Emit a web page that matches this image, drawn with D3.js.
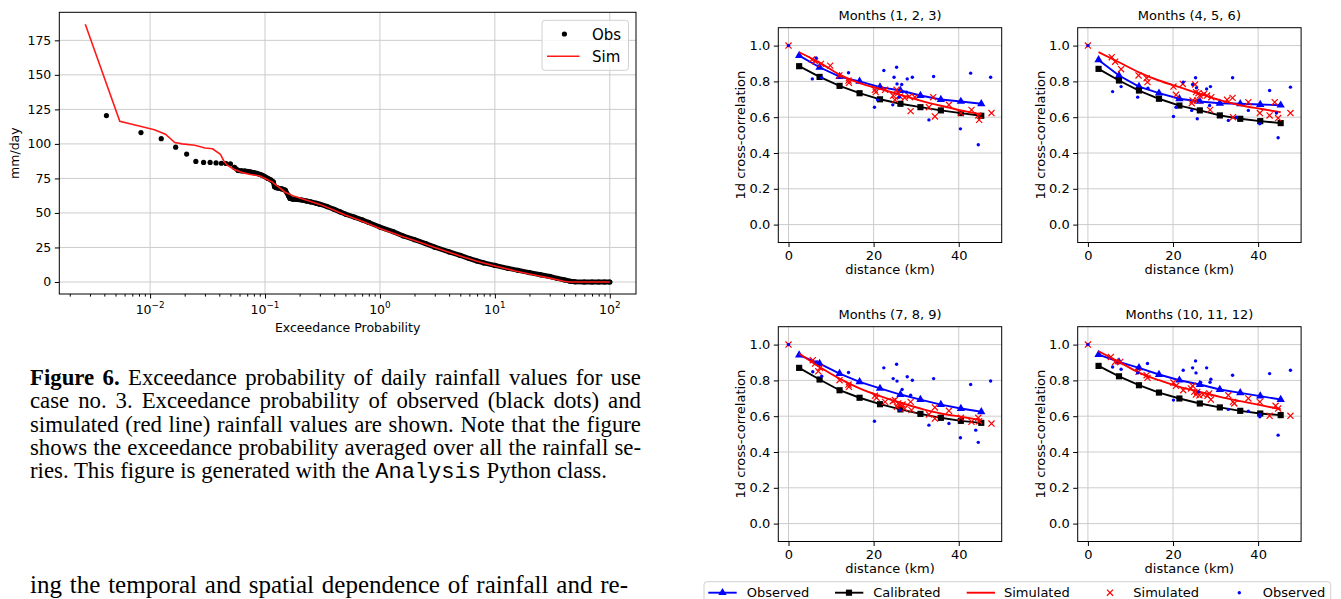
<!DOCTYPE html>
<html>
<head>
<meta charset="utf-8">
<script src="https://cdn.jsdelivr.net/npm/d3@7"></script>
<style>
  body { margin: 0; background: #fff; width: 1341px; height: 599px; overflow: hidden; position: relative; }
  svg { position: absolute; left: 0; top: 0; }
  svg text { font-family: "DejaVu Sans", sans-serif; fill: #000; }
  .cap { position: absolute; left: 30px; font-family: "Liberation Serif", "Times New Roman", serif;
         font-size: 22.8px; line-height: 23.3px; color: #000; }
  .cap div { white-space: nowrap; }
  .cap code { font-family: "Liberation Mono", "Courier New", monospace; font-size: 22px; }
  .body { font-size: 25px; }
</style>
</head>
<body>
<div class="cap" style="top:366px" data-w="611">
  <div class="j"><span><b>Figure 6.</b> Exceedance probability of daily rainfall values for use</span></div>
  <div class="j"><span>case no. 3. Exceedance probability of observed (black dots) and</span></div>
  <div class="j"><span>simulated (red line) rainfall values are shown. Note that the figure</span></div>
  <div class="j"><span>shows the exceedance probability averaged over all the rainfall se-</span></div>
  <div><span>ries. This figure is generated with the <code>Analysis</code> Python class.</span></div>
</div>
<div class="cap body" style="top:573px" data-w="598">
  <div class="j"><span>ing the temporal and spatial dependence of rainfall and re-</span></div>
</div>
<svg id="vis"></svg>
<script>
// ---- left chart: exceedance probability (percent) vs mm/day
var obsProb = [0.00417, 0.00833, 0.0125, 0.0167, 0.0208, 0.025, 0.0292, 0.0333, 0.0375, 0.0417, 0.0458, 0.05,
  0.0542, 0.0583, 0.0625, 0.0667, 0.0708, 0.075, 0.08, 0.085, 0.09, 0.095,
  0.1, 0.106, 0.112, 0.118, 0.121, 0.125, 0.13, 0.14, 0.15, 0.16,
  0.165, 0.175, 0.19, 0.21, 0.23, 0.25, 0.28, 0.3, 0.35, 0.4,
  0.45, 0.5, 0.6, 0.7, 0.8, 1, 1.3, 1.6, 2, 2.5,
  3, 4, 5, 6, 7, 8, 10, 13, 16, 20,
  25, 30, 35, 40, 45, 50, 60, 70, 80, 90, 100];
var obsMm = [120.5, 108.2, 103.8, 97.6, 92.6, 87.3, 86.6, 86.6, 86.2, 86.0, 85.8, 85.5,
  83.0, 80.8, 80.5, 80.3, 80.0, 79.6, 79.2, 78.6, 78.0, 77.2,
  76.2, 75.0, 74.0, 72.5, 69.0, 68.3, 68.0, 67.4, 66.5, 62.5,
  60.5, 60.0, 59.8, 59.3, 58.6, 58.0, 57.0, 56.3, 54.5, 52.6,
  50.8, 49.2, 47.0, 45.0, 43.1, 39.8, 36.5, 33.3, 30.6, 27.8,
  25.2, 21.8, 19.2, 17.0, 15.2, 13.8, 12.0, 9.9, 8.4, 6.8,
  5.2, 4.0, 2.6, 1.6, 0.6, 0.1, 0, 0, 0, 0, 0];
var simProb = [0.00273, 0.00545, 0.0082, 0.0109, 0.0136, 0.0164, 0.019, 0.0245, 0.03, 0.035,
  0.0409, 0.0436, 0.0463, 0.054, 0.065, 0.075, 0.09, 0.1, 0.115, 0.13,
  0.15, 0.18, 0.22, 0.3, 0.4, 0.5, 0.7, 1, 1.5, 2,
  3, 5, 7, 10, 15, 20, 30, 40, 45, 100];
var simMm = [186.7, 116.4, 112.8, 110.2, 107.0, 101.0, 100.0, 99.0, 97.0, 96.5,
  92.5, 88.0, 85.0, 81.5, 79.0, 77.8, 76.8, 75.0, 72.5, 69.0,
  65.0, 62.0, 59.8, 56.2, 52.0, 48.5, 44.0, 38.8, 33.5, 30.0,
  25.0, 18.8, 15.0, 11.6, 8.0, 5.8, 2.8, 0.5, 0.0, 0.0];
var probTicks = [0.01, 0.1, 1, 10, 100],
    probExp = ["\u22122", "\u22121", "0", "1", "2"],
    mmTicks = [0, 25, 50, 75, 100, 125, 150, 175];

// ---- right: 1d cross-correlation vs distance, one entry per season
var panelTitles = ["Months (1, 2, 3)", "Months (4, 5, 6)", "Months (7, 8, 9)", "Months (10, 11, 12)"];
var binDist = [2.5, 7.3, 12.0, 16.7, 21.5, 26.3, 31.0, 35.8, 40.5, 45.3];
var obsFit = [
  [0.944, 0.879, 0.827, 0.800, 0.768, 0.749, 0.721, 0.699, 0.688, 0.675],
  [0.920, 0.833, 0.771, 0.734, 0.703, 0.688, 0.678, 0.675, 0.671, 0.667],
  [0.941, 0.894, 0.838, 0.792, 0.755, 0.721, 0.693, 0.665, 0.643, 0.625],
  [0.944, 0.903, 0.870, 0.833, 0.801, 0.777, 0.749, 0.730, 0.712, 0.693]];
var calFit = [
  [0.885, 0.825, 0.775, 0.734, 0.700, 0.675, 0.656, 0.638, 0.623, 0.608],
  [0.870, 0.805, 0.749, 0.703, 0.665, 0.638, 0.610, 0.591, 0.578, 0.567],
  [0.870, 0.805, 0.745, 0.703, 0.667, 0.638, 0.613, 0.591, 0.574, 0.563],
  [0.881, 0.823, 0.773, 0.732, 0.699, 0.671, 0.649, 0.630, 0.615, 0.606]];
var simFit = [
  [0.963, 0.905, 0.838, 0.790, 0.758, 0.725, 0.693, 0.664, 0.638, 0.615],
  [0.963, 0.907, 0.851, 0.805, 0.768, 0.730, 0.695, 0.667, 0.647, 0.628],
  [0.950, 0.875, 0.810, 0.755, 0.712, 0.675, 0.643, 0.615, 0.597, 0.578],
  [0.963, 0.903, 0.844, 0.801, 0.764, 0.736, 0.708, 0.684, 0.662, 0.639]];
var simPts = [
  [[0,1.0],[5.5,0.922],[6.25,0.913],[7.6,0.898],[9.8,0.888],[11.95,0.833],[14.1,0.805],[14.2,0.792],[20.3,0.753],[20.5,0.74],
   [22.7,0.753],[24.6,0.721],[25,0.697],[25.4,0.753],[25.8,0.736],[26.2,0.716],[27.3,0.708],[28.4,0.716],[28.7,0.634],[29.7,0.712],
   [33,0.656],[34,0.712],[34.4,0.604],[37.7,0.669],[40.5,0.623],[43,0.641],[44.6,0.61],[44.8,0.585],[47.7,0.623]],
  [[0,1.0],[5.6,0.935],[6.4,0.91],[7.8,0.868],[11.9,0.833],[13.8,0.818],[14,0.796],[20.1,0.771],[20.7,0.725],[22.3,0.786],
   [24.4,0.678],[24.6,0.693],[25.2,0.783],[25.4,0.74],[25.7,0.693],[26,0.734],[26.3,0.721],[27.3,0.73],[28,0.721],[28.7,0.641],
   [29,0.712],[32.7,0.697],[34,0.708],[34.1,0.6],[37.7,0.684],[40.4,0.623],[42.7,0.61],[43.9,0.684],[44.7,0.595],[47.6,0.623]],
  [[0,1.0],[5.7,0.913],[6.25,0.894],[7,0.851],[7.4,0.87],[12,0.801],[14.1,0.777],[14.2,0.764],[20.3,0.714],[20.7,0.703],
   [22.7,0.68],[24.5,0.684],[25,0.69],[25.5,0.652],[25.8,0.671],[26.2,0.662],[26.8,0.665],[27.3,0.643],[28.7,0.68],[28.9,0.634],
   [33,0.61],[34.4,0.649],[34.4,0.587],[37.7,0.63],[40.5,0.591],[43,0.569],[44.6,0.591],[44.8,0.572],[47.7,0.559]],
  [[0,1.0],[5.4,0.931],[6.4,0.903],[7.6,0.903],[11.9,0.848],[13.8,0.829],[14,0.814],[20.1,0.788],[20.7,0.77],[22.4,0.745],
   [24.2,0.755],[24.6,0.77],[25,0.736],[25.4,0.721],[25.7,0.736],[26.2,0.717],[27.1,0.721],[28.1,0.714],[28.5,0.727],[28.9,0.693],
   [33,0.717],[34.1,0.68],[34.4,0.671],[37.7,0.699],[40.4,0.68],[42.7,0.602],[44.1,0.658],[44.7,0.643],[47.6,0.602]]];
var obsPts = [
  [[0,1.0],[5.6,0.814],[6.5,0.931],[7.8,0.82],[14.1,0.848],[20.2,0.656],[20.9,0.697],[22.4,0.861],[24.5,0.669],[24.8,0.823],
   [25.4,0.879],[25.5,0.786],[26,0.712],[26.6,0.783],[27.7,0.74],[27.9,0.814],[29.1,0.823],[33,0.585],[34.1,0.827],[40.4,0.535],
   [42.8,0.846],[44.6,0.446],[47.5,0.823]],
  [[0,1.0],[5.8,0.743],[7.8,0.771],[11.7,0.712],[14.1,0.762],[20.1,0.604],[20.7,0.656],[22.4,0.796],[24.4,0.638],[24.6,0.783],
   [25.3,0.82],[25.5,0.764],[25.7,0.591],[26,0.693],[27.9,0.758],[28.6,0.665],[28.8,0.771],[33,0.582],[34,0.82],[34.9,0.6],
   [37.7,0.638],[40.4,0.563],[42.7,0.749],[44.3,0.623],[44.7,0.485],[47.6,0.768]],
  [[0,1.0],[5.7,0.848],[6.5,0.903],[7.8,0.823],[14.1,0.844],[20.2,0.572],[22.4,0.87],[24.6,0.81],[25.4,0.89],[25.5,0.796],
   [26.2,0.634],[26.7,0.749],[27.9,0.82],[28.7,0.717],[29.1,0.801],[33,0.55],[34.1,0.81],[37.7,0.559],[40.4,0.48],[42.8,0.777],
   [44,0.522],[44.6,0.454],[47.5,0.797]],
  [[0,1.0],[5.8,0.875],[7.8,0.862],[11.7,0.842],[14,0.894],[20.1,0.69],[22.4,0.857],[24.6,0.87],[25.3,0.909],[25.4,0.842],
   [26,0.736],[26.2,0.777],[26.5,0.788],[27.9,0.87],[28.7,0.79],[28.9,0.807],[33,0.638],[34,0.829],[37.7,0.628],[40.4,0.597],
   [40.4,0.61],[42.7,0.838],[44.7,0.494],[47.6,0.857]]];
var distTicks = [0, 20, 40],
    corrTicks = [0, 0.2, 0.4, 0.6, 0.8, 1.0];

var W = 1341, H = 599, gridCol = "#cccccc";

// justify the text lines by spreading the word gaps
d3.selectAll(".cap").each(function() {
  var target = +this.getAttribute("data-w");
  d3.select(this).selectAll(".j span").each(function() {
    var natural = this.getBoundingClientRect().width,
        n = (this.textContent.match(/ /g) || []).length;
    if (n) this.style.wordSpacing = ((target - natural) / n) + "px";
  });
});

var svg = d3.select("#vis").attr("width", W).attr("height", H);

// ================= left chart =================
var L = {left: 59.3, right: 636, top: 12.3, bottom: 294};
var x = d3.scaleLog().domain([Math.pow(10, -2.79), Math.pow(10, 2.228)]).range([L.left, L.right]),
    y = d3.scaleLinear().domain([-8.7, 195.3]).range([L.bottom, L.top]);

var g = svg.append("g");
g.selectAll(".vg").data(probTicks).enter().append("line")
    .attr("x1", function(d) { return x(d); }).attr("x2", function(d) { return x(d); })
    .attr("y1", L.top).attr("y2", L.bottom).attr("stroke", gridCol).attr("stroke-width", 1);
g.selectAll(".hg").data(mmTicks).enter().append("line")
    .attr("x1", L.left).attr("x2", L.right)
    .attr("y1", function(d) { return y(d); }).attr("y2", function(d) { return y(d); })
    .attr("stroke", gridCol).attr("stroke-width", 1);

// minor ticks on the log axis
var minor = [];
[-3, -2, -1, 0, 1, 2].forEach(function(e) {
  for (var k = 2; k < 10; k++) {
    var v = k * Math.pow(10, e);
    if (v > x.domain()[0] && v < x.domain()[1]) minor.push(v);
  }
});
g.append("g").attr("transform", "translate(0," + L.bottom + ")")
    .call(d3.axisBottom(x).tickValues(minor).tickSize(2.6).tickFormat(""))
    .call(function(a) { a.select(".domain").remove(); });
g.append("g").attr("transform", "translate(0," + L.bottom + ")")
    .call(d3.axisBottom(x).tickValues(probTicks).tickSize(4.5).tickFormat(""))
    .call(function(a) { a.select(".domain").remove(); });
g.append("g").attr("transform", "translate(" + L.left + ",0)")
    .call(d3.axisLeft(y).tickValues(mmTicks).tickSize(4.5).tickPadding(3.5))
    .call(function(a) {
      a.select(".domain").remove();
      a.selectAll("text").style("font-family", "DejaVu Sans").style("font-size", "12.5px").attr("fill", "#000");
    });

var xl = g.selectAll(".xl").data(probTicks).enter().append("text")
    .attr("x", function(d) { return x(d); }).attr("y", 313.5)
    .attr("text-anchor", "middle").style("font-size", "12.5px");
xl.append("tspan").text("10");
xl.append("tspan").attr("dy", -5.5).style("font-size", "8.8px")
    .text(function(d, i) { return probExp[i]; });

g.append("text").attr("x", (L.left + L.right) / 2).attr("y", 332)
    .attr("text-anchor", "middle").style("font-size", "12.5px").text("Exceedance Probability");
g.append("text").attr("transform", "translate(14.5," + ((L.top + L.bottom) / 2) + ") rotate(-90)")
    .attr("text-anchor", "middle").attr("dominant-baseline", "central")
    .style("font-size", "12.5px").text("mm/day");

var obs = obsProb.map(function(p, i) { return [p, obsMm[i]]; }),
    sim = simProb.map(function(p, i) { return [p, simMm[i]]; });
var line = d3.line().x(function(d) { return x(d[0]); }).y(function(d) { return y(d[1]); });

// the dense part of the observed dots merges into a band
g.append("path").datum(obs.filter(function(d) { return d[0] > 0.052; }))
    .attr("d", line).attr("fill", "none").attr("stroke", "#000")
    .attr("stroke-width", 5).attr("stroke-linejoin", "round").attr("stroke-linecap", "round");
g.selectAll(".od").data(obs).enter().append("circle")
    .attr("cx", function(d) { return x(d[0]); }).attr("cy", function(d) { return y(d[1]); })
    .attr("r", 2.6).attr("fill", "#000");
g.append("path").datum(sim).attr("d", line)
    .attr("fill", "none").attr("stroke", "#ff1a1a").attr("stroke-width", 1.6);

g.append("rect").attr("x", L.left).attr("y", L.top)
    .attr("width", L.right - L.left).attr("height", L.bottom - L.top)
    .attr("fill", "none").attr("stroke", "#000").attr("stroke-width", 1);

// legend
var lg = g.append("g");
lg.append("rect").attr("x", 542).attr("y", 20.3).attr("width", 86.5).attr("height", 50)
    .attr("rx", 3).attr("fill", "#fff").attr("fill-opacity", 0.8).attr("stroke", "#d0d0d0");
lg.append("circle").attr("cx", 564.4).attr("cy", 34).attr("r", 2.6).attr("fill", "#000");
lg.append("text").attr("x", 592).attr("y", 39.5).style("font-size", "15px").text("Obs");
lg.append("line").attr("x1", 547).attr("x2", 579.5).attr("y1", 56.3).attr("y2", 56.3)
    .attr("stroke", "#ff1a1a").attr("stroke-width", 1.6);
lg.append("text").attr("x", 592).attr("y", 61.8).style("font-size", "15px").text("Sim");

// ================= right: four panels =================
var origins = [[778.3, 27.7], [1077.7, 27.7], [778.3, 326.7], [1077.7, 326.7]],
    pw = 223.4, ph = 214.8;
var tri = d3.symbol().type(d3.symbolTriangle).size(30),
    sq = d3.symbol().type(d3.symbolSquare).size(38),
    cross = d3.symbol().type(d3.symbolX).size(26);

panelTitles.forEach(function(title, k) {
  var ox = origins[k][0], oy = origins[k][1];
  var px = d3.scaleLinear().domain([-2.4, 50.1]).range([ox, ox + pw]),
      py = d3.scaleLinear().domain([-0.1, 1.1]).range([oy + ph, oy]);
  var p = svg.append("g");

  p.selectAll(".vg").data(distTicks).enter().append("line")
      .attr("x1", function(d) { return px(d); }).attr("x2", function(d) { return px(d); })
      .attr("y1", oy).attr("y2", oy + ph).attr("stroke", gridCol);
  p.selectAll(".hg").data(corrTicks).enter().append("line")
      .attr("x1", ox).attr("x2", ox + pw)
      .attr("y1", function(d) { return py(d); }).attr("y2", function(d) { return py(d); })
      .attr("stroke", gridCol);

  p.append("g").attr("transform", "translate(0," + (oy + ph) + ")")
      .call(d3.axisBottom(px).tickValues(distTicks).tickSize(4.5).tickPadding(3.5))
      .call(function(a) {
        a.select(".domain").remove();
        a.selectAll("text").style("font-family", "DejaVu Sans").style("font-size", "13px").attr("fill", "#000");
      });
  p.append("g").attr("transform", "translate(" + ox + ",0)")
      .call(d3.axisLeft(py).tickValues(corrTicks).tickSize(4.5).tickPadding(3.5).tickFormat(d3.format(".1f")))
      .call(function(a) {
        a.select(".domain").remove();
        a.selectAll("text").style("font-family", "DejaVu Sans").style("font-size", "13px").attr("fill", "#000");
      });

  p.append("text").attr("x", ox + pw / 2).attr("y", oy - 7.3)
      .attr("text-anchor", "middle").style("font-size", "13px").text(title);
  p.append("text").attr("x", ox + pw / 2).attr("y", oy + ph + 31.2)
      .attr("text-anchor", "middle").style("font-size", "13px").text("distance (km)");
  p.append("text").attr("transform", "translate(" + (ox - 37.5) + "," + (oy + ph / 2) + ") rotate(-90)")
      .attr("text-anchor", "middle").attr("dominant-baseline", "central")
      .style("font-size", "13px").text("1d cross-correlation");

  var pl = d3.line().x(function(d) { return px(d[0]); }).y(function(d) { return py(d[1]); });
  var ob = binDist.map(function(d, i) { return [d, obsFit[k][i]]; }),
      ca = binDist.map(function(d, i) { return [d, calFit[k][i]]; }),
      sm = binDist.map(function(d, i) { return [d, simFit[k][i]]; });

  p.append("path").datum(ob).attr("d", pl).attr("fill", "none").attr("stroke", "#0000ff").attr("stroke-width", 1.9);
  p.selectAll(".tri").data(ob).enter().append("path")
      .attr("d", tri).attr("fill", "#0000ff")
      .attr("transform", function(d) { return "translate(" + px(d[0]) + "," + py(d[1]) + ")"; });
  p.append("path").datum(ca).attr("d", pl).attr("fill", "none").attr("stroke", "#000").attr("stroke-width", 1.9);
  p.selectAll(".sq").data(ca).enter().append("path")
      .attr("d", sq).attr("fill", "#000")
      .attr("transform", function(d) { return "translate(" + px(d[0]) + "," + py(d[1]) + ")"; });
  p.append("path").datum(sm).attr("d", pl.curve(d3.curveMonotoneX))
      .attr("fill", "none").attr("stroke", "#ff0000").attr("stroke-width", 1.9);
  p.selectAll(".sx").data(simPts[k]).enter().append("path")
      .attr("d", cross).attr("fill", "none").attr("stroke", "#ff0000").attr("stroke-width", 1.2)
      .attr("transform", function(d) { return "translate(" + px(d[0]) + "," + py(d[1]) + ")"; });
  p.selectAll(".bd").data(obsPts[k]).enter().append("circle")
      .attr("cx", function(d) { return px(d[0]); }).attr("cy", function(d) { return py(d[1]); })
      .attr("r", 1.7).attr("fill", "#0000ff");

  p.append("rect").attr("x", ox).attr("y", oy).attr("width", pw).attr("height", ph)
      .attr("fill", "none").attr("stroke", "#000").attr("stroke-width", 1);
});

// shared legend under the panels
var bl = svg.append("g"), ly = 592.7;
bl.append("rect").attr("x", 704).attr("y", 581.7).attr("width", 626.7).attr("height", 30)
    .attr("rx", 3).attr("fill", "#fff").attr("stroke", "#d0d0d0");
bl.append("line").attr("x1", 708.3).attr("x2", 736.7).attr("y1", ly).attr("y2", ly)
    .attr("stroke", "#0000ff").attr("stroke-width", 1.9);
bl.append("path").attr("d", tri).attr("fill", "#0000ff").attr("transform", "translate(722.5," + ly + ")");
bl.append("text").attr("x", 746.7).attr("y", ly + 4.7).style("font-size", "13px").text("Observed");
bl.append("line").attr("x1", 835).attr("x2", 863.3).attr("y1", ly).attr("y2", ly)
    .attr("stroke", "#000").attr("stroke-width", 1.9);
bl.append("path").attr("d", sq).attr("fill", "#000").attr("transform", "translate(849," + ly + ")");
bl.append("text").attr("x", 873.3).attr("y", ly + 4.7).style("font-size", "13px").text("Calibrated");
bl.append("line").attr("x1", 966.7).attr("x2", 995).attr("y1", ly).attr("y2", ly)
    .attr("stroke", "#ff0000").attr("stroke-width", 1.9);
bl.append("text").attr("x", 1004).attr("y", ly + 4.7).style("font-size", "13px").text("Simulated");
bl.append("path").attr("d", cross).attr("fill", "none").attr("stroke", "#ff0000").attr("stroke-width", 1.2)
    .attr("transform", "translate(1110," + ly + ")");
bl.append("text").attr("x", 1133.3).attr("y", ly + 4.7).style("font-size", "13px").text("Simulated");
bl.append("circle").attr("cx", 1239.3).attr("cy", ly).attr("r", 1.7).attr("fill", "#0000ff");
bl.append("text").attr("x", 1262.7).attr("y", ly + 4.7).style("font-size", "13px").text("Observed");
</script>
</body>
</html>
